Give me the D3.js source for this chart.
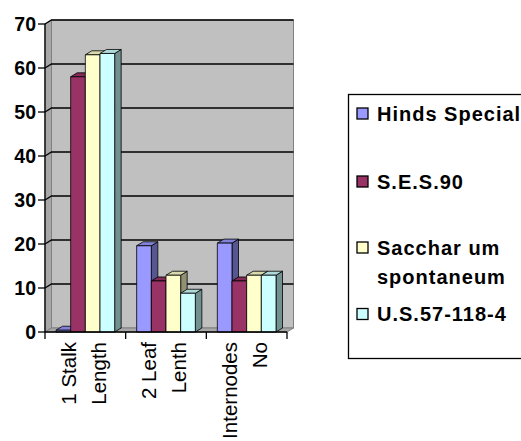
<!DOCTYPE html>
<html>
<head>
<meta charset="utf-8">
<script src="https://cdn.jsdelivr.net/npm/d3@7"></script>
<style>
  body { margin: 0; background: #fff; }
  svg { display: block; }
  text { font-family: Arial, "Liberation Sans", sans-serif; }
</style>
</head>
<body>
<script>
// data
const categories = ["1 Stalk Length", "2 Leaf Lenth", "Internodes No"];
const categoryLines = [["1 Stalk", "Length"], ["2 Leaf", "Lenth"], ["Internodes", "No"]];
const seriesNames = ["Hinds Special", "S.E.S.90", "Saccharum spontaneum", "U.S.57-118-4"];
const legendLines = [["Hinds Special"], ["S.E.S.90"], ["Sacchar um", "spontaneum"], ["U.S.57-118-4"]];
const hindsSpecial = [0.4, 19.6, 20.2];
const ses90 = [58, 11.6, 11.6];
const saccharum = [63, 12.9, 12.9];
const us57 = [63.3, 8.8, 12.9];
const yTicks = [0, 10, 20, 30, 40, 50, 60, 70];

const seriesValues = [hindsSpecial, ses90, saccharum, us57];
const colors = ["#9999FF", "#993366", "#FFFFCC", "#CCFFFF"];

const W = 521, H = 441;
const svg = d3.select("body").append("svg").attr("width", W).attr("height", H);

// front plane + depth offset of the 3d box
const plotLeft = 45, plotRight = 287, plotBottom = 332, plotTop = 24;
const dx = 6.5, dy = -4;

const y = d3.scaleLinear().domain([0, 70]).range([plotBottom, plotTop]);
const x0 = d3.scaleBand().domain(categories).range([plotLeft, plotRight]);
const bw = x0.bandwidth();
const barW = bw / 5.5;  // gap width 150%
const x1 = d3.scaleBand().domain(seriesNames).range([barW * 0.75, bw - barW * 0.75]);

const pts = p => p.map(d => d.join(",")).join(" ");

// walls
const g = svg.append("g");
// back wall
g.append("rect")
  .attr("x", plotLeft + dx).attr("y", plotTop + dy)
  .attr("width", plotRight - plotLeft).attr("height", plotBottom - plotTop)
  .attr("fill", "#C0C0C0").attr("stroke", "#808080");
// left wall
g.append("polygon")
  .attr("points", pts([[plotLeft, plotTop], [plotLeft + dx, plotTop + dy], [plotLeft + dx, plotBottom + dy], [plotLeft, plotBottom]]))
  .attr("fill", "#A8A8A8").attr("stroke", "#808080");
// floor
g.append("polygon")
  .attr("points", pts([[plotLeft, plotBottom], [plotLeft + dx, plotBottom + dy], [plotRight + dx, plotBottom + dy], [plotRight, plotBottom]]))
  .attr("fill", "#A8A8A8").attr("stroke", "#808080");

// gridlines
yTicks.filter(t => t > 0).forEach(t => {
  g.append("polyline")
    .attr("points", pts([[plotLeft, y(t)], [plotLeft + dx, y(t) + dy], [plotRight + dx, y(t) + dy]]))
    .attr("fill", "none").attr("stroke", "#000").attr("stroke-width", 1.3);
});

// bars
const shade = (c, k) => d3.rgb(c).darker(k).formatHex();
seriesNames.forEach((s, si) => {
  seriesValues[si].forEach((v, ci) => {
    const bx = x0(categories[ci]) + x1(s);
    const by = y(v);
    const bar = g.append("g").attr("stroke", "#000").attr("stroke-width", 0.8).attr("stroke-linejoin", "round");
    // side
    bar.append("polygon")
      .attr("points", pts([[bx + barW, by], [bx + barW + dx, by + dy], [bx + barW + dx, plotBottom + dy], [bx + barW, plotBottom]]))
      .attr("fill", shade(colors[si], 1.6));
    // top
    bar.append("polygon")
      .attr("points", pts([[bx, by], [bx + dx, by + dy], [bx + barW + dx, by + dy], [bx + barW, by]]))
      .attr("fill", shade(colors[si], 0.45));
    // front
    bar.append("rect")
      .attr("x", bx).attr("y", by).attr("width", barW).attr("height", plotBottom - by)
      .attr("fill", colors[si]);
  });
});

// y axis
const axisG = svg.append("g");
axisG.append("line").attr("x1", plotLeft).attr("x2", plotLeft).attr("y1", plotTop).attr("y2", plotBottom).attr("stroke", "#000").attr("stroke-width", 1.3);
yTicks.forEach(t => {
  axisG.append("line").attr("x1", plotLeft - 7).attr("x2", plotLeft).attr("y1", y(t)).attr("y2", y(t)).attr("stroke", "#000").attr("stroke-width", 1.3);
  axisG.append("text")
    .attr("x", 36).attr("y", y(t)).attr("dy", "0.36em")
    .attr("text-anchor", "end")
    .attr("font-size", 19.5).attr("font-weight", "bold")
    .text(t);
});

// x axis
axisG.append("line").attr("x1", plotLeft).attr("x2", plotRight).attr("y1", plotBottom).attr("y2", plotBottom).attr("stroke", "#000").attr("stroke-width", 1.3);
[plotLeft, ...categories.map(c => x0(c) + bw)].forEach(xx => {
  axisG.append("line").attr("x1", xx).attr("x2", xx).attr("y1", plotBottom).attr("y2", plotBottom + 7).attr("stroke", "#000").attr("stroke-width", 1.3);
});
categories.forEach((c, ci) => {
  const cx = x0(c) + bw / 2;
  categoryLines[ci].forEach((line, li) => {
    const lx = cx + (li === 0 ? -17 : 13);
    axisG.append("text")
      .attr("transform", `translate(${lx},342) rotate(-90)`)
      .attr("dy", "0.36em")
      .attr("text-anchor", "end")
      .attr("font-size", 20.5)
      .text(line);
  });
});

// legend
const leg = svg.append("g");
leg.append("rect")
  .attr("x", 348.5).attr("y", 94.5).attr("width", 200).attr("height", 264)
  .attr("fill", "#fff").attr("stroke", "#000").attr("stroke-width", 1.3);
const legRows = [113.5, 181.5, 247.5, 314];
seriesNames.forEach((s, si) => {
  const ry = legRows[si];
  leg.append("rect")
    .attr("x", 357).attr("y", ry - 5.5).attr("width", 11).attr("height", 11)
    .attr("fill", colors[si]).attr("stroke", "#000").attr("stroke-width", 1.3);
  legendLines[si].forEach((line, li) => {
    leg.append("text")
      .attr("x", 377).attr("y", ry + li * 29.5).attr("dy", "0.36em")
      .attr("font-size", 20).attr("font-weight", "bold")
      .attr("letter-spacing", 1)
      .text(line);
  });
});
</script>
</body>
</html>
